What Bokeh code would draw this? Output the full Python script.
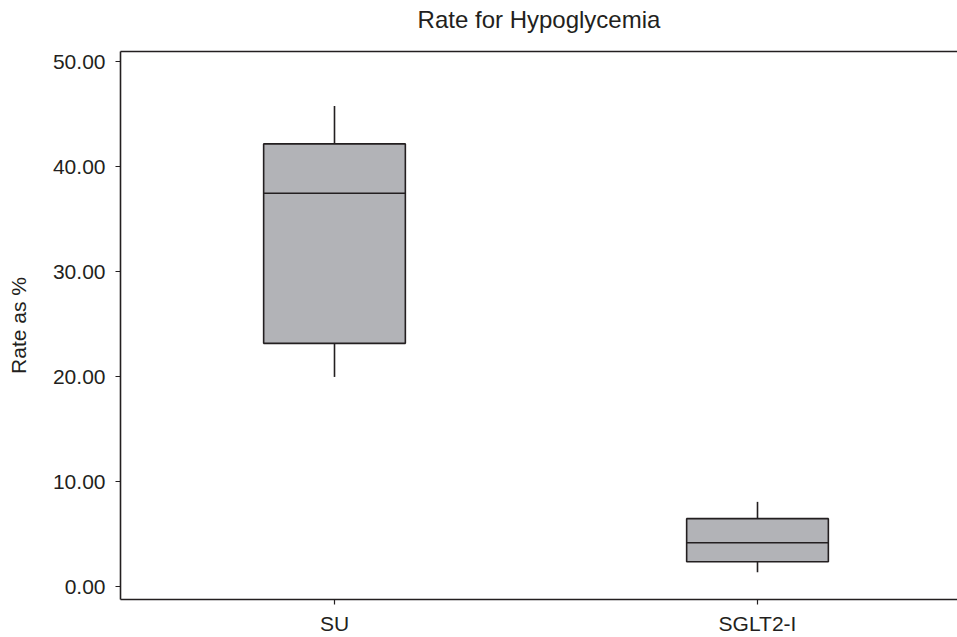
from bokeh.plotting import figure
from bokeh.models import FixedTicker, NumeralTickFormatter, Range1d, LinearAxis
from bokeh.embed import file_html
from bokeh.resources import INLINE

title_text = "Rate for Hypoglycemia"
categories = ["SU", "SGLT2-I"]
whisker_low = [20.0, 1.4]
q1 = [23.2, 2.4]
median = [37.5, 4.2]
q3 = [42.2, 6.5]
whisker_high = [45.8, 8.1]
y_ticks = [0, 10, 20, 30, 40, 50]

xpos = [1, 2]
FONT = "Liberation Sans"
INK = "#231f20"
FILL = "#b2b3b7"
Y_TOP = 51.0

p = figure(width=957, height=637, output_backend="svg", toolbar_location=None,
           x_range=Range1d(0.4941, 2.4728), y_range=Range1d(-1.2, Y_TOP),
           min_border_left=120, min_border_right=0, min_border_top=51, min_border_bottom=30)
p.outline_line_color = None
p.grid.grid_line_color = None
p.background_fill_color = "white"
p.border_fill_color = "white"

bottom_axis = p.below[0]
left_axis = p.left[0]

bw = 0.335
p.segment(x0=xpos, y0=q3, x1=xpos, y1=whisker_high, line_color=INK, line_width=1.6)
p.segment(x0=xpos, y0=whisker_low, x1=xpos, y1=q1, line_color=INK, line_width=1.6)
p.vbar(x=xpos, width=bw, bottom=q1, top=q3, fill_color=FILL, line_color=INK, line_width=1.6)
p.rect(x=xpos, y=median, width=bw, height=0.0001, fill_color=None, line_color=INK, line_width=1.6)

# top border line + title carried by an "above" axis
top_axis = LinearAxis(ticker=FixedTicker(ticks=[]), axis_label=title_text,
                      axis_line_color=INK, axis_line_width=1.6,
                      major_tick_out=0, major_tick_in=0, minor_tick_out=0, minor_tick_in=0,
                      major_label_standoff=0, major_label_text_font_size="0px",
                      axis_label_text_font=FONT, axis_label_text_font_style="normal",
                      axis_label_text_font_size="24px", axis_label_text_color=INK,
                      axis_label_standoff=19)
p.add_layout(top_axis, "above")

for ax in (bottom_axis, left_axis):
    ax.axis_line_color = INK
    ax.axis_line_width = 1.6
    ax.major_tick_line_color = INK
    ax.major_tick_line_width = 1.2
    ax.major_tick_out = 5
    ax.major_tick_in = 0
    ax.minor_tick_line_color = None
    ax.major_label_text_font = FONT
    ax.major_label_text_color = INK

bottom_axis.ticker = FixedTicker(ticks=xpos)
bottom_axis.major_label_overrides = {x: c for x, c in zip(xpos, categories)}
bottom_axis.major_label_text_font_size = "21px"
bottom_axis.major_label_standoff = 7

left_axis.ticker = FixedTicker(ticks=y_ticks)
left_axis.formatter = NumeralTickFormatter(format="0.00")
left_axis.major_label_text_font_size = "21px"
left_axis.major_label_standoff = 10
left_axis.axis_label = "Rate as %"
left_axis.axis_label_text_font = FONT
left_axis.axis_label_text_font_style = "normal"
left_axis.axis_label_text_font_size = "21px"
left_axis.axis_label_text_color = INK
left_axis.axis_label_standoff = 20

open("out.html", "w").write(file_html(p, INLINE))
